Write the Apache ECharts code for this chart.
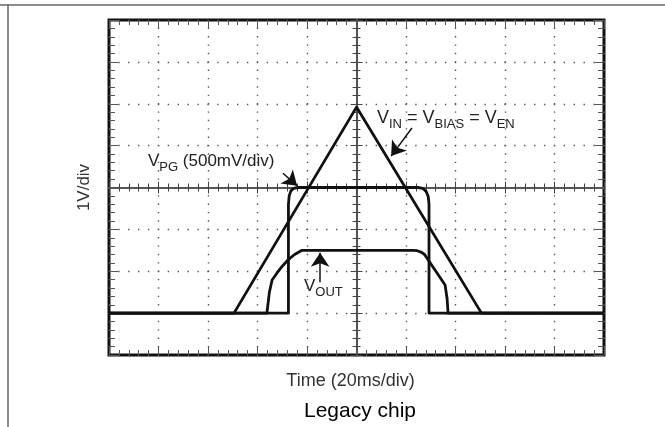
<!DOCTYPE html>
<html><head><meta charset="utf-8">
<script src="https://cdn.jsdelivr.net/npm/echarts@6/dist/echarts.min.js"></script>
<style>html,body{margin:0;padding:0;background:#fff}#c{width:665px;height:427px}</style>
</head><body><div id="c"></div>
<script>
// ---- data (time in ms, voltage in display volts, 1 V/div) ----
const xAxisName = 'Time (20ms/div)';
const yAxisName = '1V/div';
const chartCaption = 'Legacy chip';
const xMin = 0, xMax = 200, xStep = 20;
const yMin = -1, yMax = 7, yStep = 1;

const vinTime = [0, 50.5, 100, 150.5, 200];
const vinVolt = [0, 0, 4.92, 0, 0];

const pgTime = [0, 72.5, 72.5, 72.8, 73.5, 74.6, 76.4, 124.8, 126.8, 128.2, 129.0, 129.3, 129.3, 200];
const pgVolt = [0, 0, 2.6, 2.8, 2.92, 2.98, 3.0, 3.0, 2.98, 2.9, 2.78, 2.6, 0, 0];

const voutTime = [0, 63.8, 64.2, 64.8, 65.9, 67.9, 70.0, 72.3, 75.0, 78.0, 122.8, 124.5, 126.3, 127.5, 135.8, 136.6, 137.0, 200];
const voutVolt = [0, 0, 0.2, 0.5, 0.79, 0.96, 1.12, 1.27, 1.4, 1.5, 1.5, 1.49, 1.45, 1.4, 0.67, 0.35, 0, 0];

const pgArrow = [[70.3, 3.34], [76.0, 3.04]];
const vinArrow = [[122.4, 4.42], [114.0, 3.75]];
const voutArrow = [[85.3, 0.74], [85.3, 1.44]];

// ---- build ----
const zip = (t, v) => t.map((x, i) => [x, v[i]]);
const ff = '"Liberation Sans", Arial, Helvetica, sans-serif';
const ink = '#111';
const tickGray = '#555';

function borderX(pos, extra) {
  return Object.assign({
    type: 'value', position: pos, min: xMin, max: xMax, interval: xStep,
    axisLine: { show: false, onZero: false },
    axisLabel: { show: false },
    axisTick: { show: true, inside: true, length: 8, lineStyle: { color: tickGray, width: 1 } },
    minorTick: { show: true, splitNumber: 5, length: 5, lineStyle: { color: tickGray, width: 1 } },
    splitLine: { show: false }
  }, extra || {});
}
function borderY(pos, extra) {
  return Object.assign({
    type: 'value', position: pos, min: yMin, max: yMax, interval: yStep,
    axisLine: { show: false, onZero: false },
    axisLabel: { show: false },
    axisTick: { show: true, inside: true, length: 9, lineStyle: { color: tickGray, width: 1 } },
    minorTick: { show: true, splitNumber: 5, length: 6, lineStyle: { color: tickGray, width: 1 } },
    splitLine: { show: false }
  }, extra || {});
}
function centerX(inside) {
  return {
    type: 'value', position: 'bottom', offset: -167.5, min: xMin, max: xMax, interval: xStep,
    axisLine: { show: true, onZero: false, lineStyle: { color: '#555', width: 2 } },
    axisLabel: { show: false },
    axisTick: { show: true, inside: inside, length: 6, lineStyle: { color: '#444', width: 1 } },
    minorTick: { show: true, splitNumber: 5, length: 4, lineStyle: { color: '#444', width: 1 } },
    splitLine: { show: false }
  };
}
function centerY(inside) {
  return {
    type: 'value', position: 'left', offset: -247.5, min: yMin, max: yMax, interval: yStep,
    axisLine: { show: true, onZero: false, lineStyle: { color: '#555', width: 2 } },
    axisLabel: { show: false },
    axisTick: { show: true, inside: inside, length: 6, lineStyle: { color: '#444', width: 1 } },
    minorTick: { show: true, splitNumber: 5, length: 4, lineStyle: { color: '#444', width: 1 } },
    splitLine: { show: false }
  };
}

const chart = echarts.init(document.getElementById('c'), null, { renderer: 'canvas' });

const lineSeries = (name, data, extra) => Object.assign({
  name, type: 'line', data, xAxisIndex: 0, yAxisIndex: 0,
  symbol: 'none', animation: false, silent: true, z: 5,
  lineStyle: { color: ink, width: 2.8, join: 'round' }
}, extra || {});

chart.setOption({
  animation: false,
  backgroundColor: '#fff',
  grid: { left: 109, top: 20, width: 495, height: 335, show: true, borderColor: '#111', borderWidth: 3, backgroundColor: 'transparent' },
  xAxis: [
    borderX('bottom', {
      name: xAxisName, nameLocation: 'middle', nameGap: 17,
      nameTextStyle: { fontFamily: ff, fontSize: 18, color: '#333', padding: [0, 12, 0, 0] },
      splitLine: { show: true, lineStyle: { color: '#555', width: 1.4, type: [1.4, 6.975], dashOffset: 0.7 } }
    }),
    borderX('top'),
    centerX(true),
    centerX(false)
  ],
  yAxis: [
    borderY('left', {
      name: yAxisName, nameLocation: 'middle', nameGap: 16,
      nameTextStyle: { fontFamily: ff, fontSize: 17, color: '#333' },
      splitLine: { show: true, lineStyle: { color: '#555', width: 1.4, type: [1.4, 8.5], dashOffset: 0.7 } }
    }),
    borderY('right'),
    centerY(true),
    centerY(false)
  ],
  series: [
    lineSeries('VIN', zip(vinTime, vinVolt), {
      markLine: {
        silent: true, animation: false,
        symbol: ['none', 'arrow'], symbolSize: 14,
        label: { show: false },
        lineStyle: { color: ink, width: 1.5, type: 'solid' },
        data: [pgArrow, vinArrow, voutArrow].map(a => [{ coord: a[0] }, { coord: a[1] }])
      }
    }),
    lineSeries('VPG', zip(pgTime, pgVolt)),
    lineSeries('VOUT', zip(voutTime, voutVolt))
  ],
  graphic: [
    { type: 'line', shape: { x1: 0, y1: 5, x2: 665, y2: 5 }, style: { stroke: '#666', lineWidth: 1.5 }, silent: true },
    { type: 'line', shape: { x1: 8, y1: 5, x2: 8, y2: 427 }, style: { stroke: '#666', lineWidth: 1.5 }, silent: true },
    { type: 'text', x: 360, y: 401, silent: true,
      style: { text: chartCaption, font: '21px ' + ff, fill: '#000', align: 'center', verticalAlign: 'top' } },
    { type: 'text', x: 148, y: 153, silent: true,
      style: { text: '{m|V}{s|PG}{m| (500mV/div)}', fill: ink, verticalAlign: 'top',
        rich: { m: { fontSize: 17, fontFamily: ff, fill: '#222', verticalAlign: 'top', lineHeight: 20 },
                s: { fontSize: 13, fontFamily: ff, fill: '#222', verticalAlign: 'top', lineHeight: 16, padding: [8, 0, 0, 0] } } } },
    { type: 'text', x: 377, y: 109, silent: true,
      style: { text: '{m|V}{s|IN}{m| = V}{s|BIAS}{m| = V}{s|EN}', fill: ink, verticalAlign: 'top',
        rich: { m: { fontSize: 18, fontFamily: ff, fill: '#222', verticalAlign: 'top', lineHeight: 21 },
                s: { fontSize: 13, fontFamily: ff, fill: '#222', verticalAlign: 'top', lineHeight: 16, padding: [9, 0, 0, 0] } } } },
    { type: 'text', x: 304, y: 278, silent: true,
      style: { text: '{m|V}{s|OUT}', fill: ink, verticalAlign: 'top',
        rich: { m: { fontSize: 17, fontFamily: ff, fill: '#222', verticalAlign: 'top', lineHeight: 20 },
                s: { fontSize: 13, fontFamily: ff, fill: '#222', verticalAlign: 'top', lineHeight: 16, padding: [8, 0, 0, 0] } } } }
  ]
});
</script></body></html>
